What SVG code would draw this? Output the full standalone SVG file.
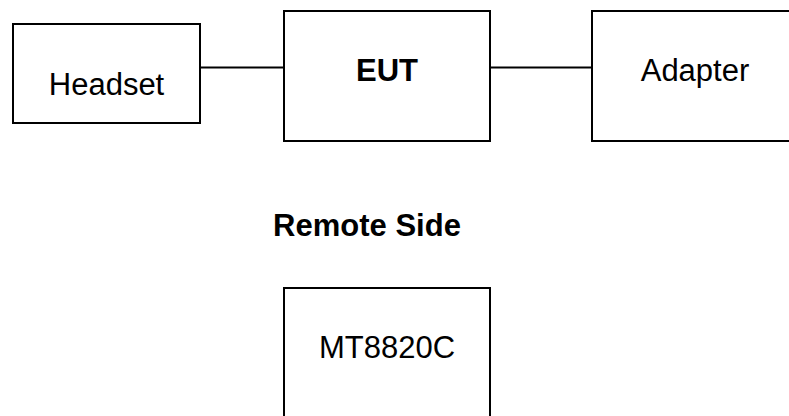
<svg xmlns="http://www.w3.org/2000/svg" width="789" height="416" viewBox="0 0 789 416">
<style>
.box{fill:#fff;stroke:#000;stroke-width:2}
.t{font-family:"Liberation Sans",Arial,sans-serif;font-size:31px;fill:#000;text-anchor:middle}
.b{font-weight:bold}
.c{stroke:#000;stroke-width:2;fill:none}
</style>
<rect width="789" height="416" fill="#fff"/>
<g id="connectors">
<line class="c" x1="200" y1="67.5" x2="284" y2="67.5"/>
<line class="c" x1="490" y1="67.5" x2="592" y2="67.5"/>
</g>
<g id="headset">
<rect class="box" x="13" y="24" width="187" height="99"/>
<text class="t" x="106.5" y="95">Headset</text>
</g>
<g id="eut">
<rect class="box" x="284" y="11" width="206" height="130"/>
<text class="t b" x="387" y="81">EUT</text>
</g>
<g id="adapter">
<rect class="box" x="592" y="11" width="215" height="130"/>
<text class="t" x="695" y="81">Adapter</text>
</g>
<g id="remote-side">
<text class="t b" x="367" y="236">Remote Side</text>
</g>
<g id="mt8820c">
<rect class="box" x="284" y="288" width="206" height="200"/>
<text class="t" x="387" y="358">MT8820C</text>
</g>
</svg>
